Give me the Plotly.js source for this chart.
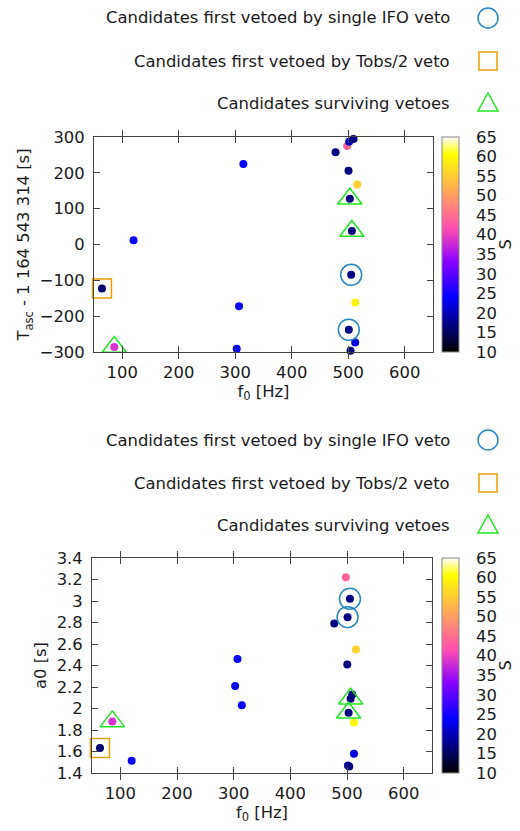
<!DOCTYPE html>
<html>
<head>
<meta charset="utf-8">
<script src="https://cdn.plot.ly/plotly-3.0.1.min.js"></script>
<style>html,body{margin:0;padding:0;background:#fff;}#chart{width:520px;height:831px;}</style>
</head>
<body>
<div id="chart"></div>
<script>
// ---- data: one entry per candidate ----
const f0   = [64.1, 85.9, 120.0, 314.4, 306.7, 302.6, 477.5, 498.0, 501.6, 509.3, 500.5, 515.8, 502.8, 506.4, 505.2, 512.3, 501.0, 512.3, 504.0];
const tasc = [-123, -286, 12.2, 224.8, -172, -290.6, 257.7, 274.6, 286.8, 294.4, 206, 167.4, 127.9, 37.6, -84.6, -161.7, -237.9, -273.6, -296.2];
const a0   = [1.633, 1.88, 1.515, 2.03, 2.46, 2.21, 2.79, 3.22, 1.47, 2.13, 2.41, 2.55, 1.96, 2.09, 3.02, 1.87, 2.85, 1.58, 1.46];
const S    = [16, 38.5, 24, 24, 24, 24, 17, 44, 20, 17, 17, 55.5, 17, 17, 17, 59.5, 17, 22, 17];
const veto = ['tobs', 'survive', '', '', '', '', '', '', '', '', '', '', 'survive', 'survive', 'ifo', '', 'ifo', '', ''];

const legendNames = {
  ifo: 'Candidates first vetoed by single IFO veto',
  tobs: 'Candidates first vetoed by Tobs/2 veto',
  survive: 'Candidates surviving vetoes'
};
const sMin = 10, sMax = 65;
const cbTicks = [10, 15, 20, 25, 30, 35, 40, 45, 50, 55, 60, 65];
const cbTitle = 'S';

// gnuplot rgbformulae 30,31,32 palette
function clamp(v){ return Math.max(0, Math.min(1, v)); }
function pal(x){
  const r = clamp(x/0.32 - 0.78125);
  const g = clamp(2*x - 0.84);
  let b;
  if (x < 0.25) b = 4*x; else if (x < 0.42) b = 1; else if (x < 0.92) b = -2*x + 1.84; else b = x/0.08 - 11.5;
  b = clamp(b);
  return 'rgb(' + Math.round(r*255) + ',' + Math.round(g*255) + ',' + Math.round(b*255) + ')';
}
const colorscale = [];
for (let i = 0; i <= 50; i++) { const x = i/50; colorscale.push([x, pal(x)]); }

const styles = {
  ifo:     {symbol: 'circle-open',      size: 21, color: '#2a86c2'},
  tobs:    {symbol: 'square-open',      size: 19, color: '#E69F00'},
  survive: {symbol: 'triangle-up-open', size: 21, color: '#1ee61e'}
};

function pick(arr, cat){ return arr.filter((_, i) => veto[i] === cat); }

const FONT = 'DejaVu Sans, sans-serif';
const TXT = '#1a1a1a';
const FS = 16.4;
const traces = [];
[['x','y',tasc,'coloraxis','y3'], ['x2','y2',a0,'coloraxis2','y4']].forEach(([xa, ya, yv, ca, cbAx]) => {
  traces.push({
    type: 'scatter', mode: 'markers', x: f0, y: yv, xaxis: xa, yaxis: ya,
    showlegend: false, cliponaxis: false,
    marker: {size: 8, color: S, coloraxis: ca}
  });
  ['ifo', 'tobs', 'survive'].forEach(cat => {
    const st = styles[cat];
    traces.push({
      type: 'scatter', mode: 'markers', name: legendNames[cat],
      x: pick(f0, cat), y: pick(yv, cat), xaxis: xa, yaxis: ya,
      showlegend: false, cliponaxis: false,
      marker: {symbol: st.symbol, size: st.size, color: st.color, line: {color: st.color, width: 1.5}}
    });
  });
  // empty trace so the colour-bar label scale gets drawn
  traces.push({type: 'scatter', mode: 'markers', x: [], y: [], xaxis: xa, yaxis: cbAx, showlegend: false, hoverinfo: 'skip'});
});

const W = 520, H = 831;
const px = v => v / W;
const py = v => 1 - v / H;

function axisCommon(){
  return {
    showline: true, linecolor: '#444', linewidth: 1, mirror: 'allticks',
    ticks: 'inside', ticklen: 6, tickcolor: '#444', showgrid: false, zeroline: false,
    tickfont: {family: FONT, size: FS, color: TXT}, ticklabelstandoff: 5
  };
}
function cb(top, bottom){
  return {
    x: px(442), xanchor: 'left', thickness: 17, xpad: 0, ypad: 0,
    y: py(bottom), yanchor: 'bottom', len: (bottom - top)/H, lenmode: 'fraction',
    outlinecolor: '#888', outlinewidth: 1,
    tickvals: cbTicks, ticks: '', showticklabels: false
  };
}
// scale for the colour-bar labels: same range as the colour axis, set just right of the bar
function cbScale(over){
  return {
    overlaying: over, anchor: 'free', position: px(459), side: 'right',
    range: [sMin, sMax], tickvals: cbTicks, showgrid: false, zeroline: false, showline: false,
    ticks: '', ticklabelstandoff: 16, tickfont: {family: FONT, size: FS, color: TXT}
  };
}

const layout = {
  width: W, height: H, margin: {l: 0, r: 0, t: 0, b: 0},
  paper_bgcolor: '#fff', plot_bgcolor: '#fff', showlegend: false,
  font: {family: FONT, size: FS, color: TXT},
  xaxis: Object.assign(axisCommon(), {domain: [px(94), px(433)], range: [50, 650], tickvals: [100,200,300,400,500,600], anchor: 'y',
    title: {text: 'f<sub>0</sub> [Hz]', standoff: 3, font: {family: FONT, size: FS, color: TXT}}}),
  yaxis: Object.assign(axisCommon(), {domain: [py(352), py(137)], range: [-300, 300], tickvals: [-300,-200,-100,0,100,200,300], anchor: 'x',
    title: {text: 'T<sub>asc</sub> - 1 164 543 314 [s]', standoff: 5, font: {family: FONT, size: FS, color: TXT}}}),
  xaxis2: Object.assign(axisCommon(), {domain: [px(92), px(432)], range: [50, 650], tickvals: [100,200,300,400,500,600], anchor: 'y2',
    title: {text: 'f<sub>0</sub> [Hz]', standoff: 3, font: {family: FONT, size: FS, color: TXT}}}),
  yaxis2: Object.assign(axisCommon(), {domain: [py(773), py(558)], range: [1.4, 3.4], tickvals: [1.4,1.6,1.8,2,2.2,2.4,2.6,2.8,3,3.2,3.4], ticktext: ['1.4','1.6','1.8','2','2.2','2.4','2.6','2.8','3','3.2','3.4'], anchor: 'x2',
    title: {text: 'a0 [s]', standoff: 5, font: {family: FONT, size: FS, color: TXT}}}),
  yaxis3: cbScale('y'),
  yaxis4: cbScale('y2'),
  coloraxis:  {cmin: sMin, cmax: sMax, colorscale: colorscale, colorbar: cb(137, 352)},
  coloraxis2: {cmin: sMin, cmax: sMax, colorscale: colorscale, colorbar: cb(558, 773)},
  annotations: [], shapes: []
};

// colorbar titles (rotated, next to the tick labels)
[[137, 352], [558, 773]].forEach(([top, bottom]) => {
  layout.annotations.push({
    xref: 'paper', yref: 'paper', x: px(505), y: py((top + bottom) / 2), xanchor: 'center', yanchor: 'middle',
    text: cbTitle, textangle: -90, showarrow: false, font: {family: FONT, size: FS, color: TXT}
  });
});

// gnuplot-style keys (text left, symbol right) for both panels
const keyRows = [[18, 61, 103], [440, 483, 525]];
const cats = ['ifo', 'tobs', 'survive'];
keyRows.forEach(rows => {
  rows.forEach((yy, k) => {
    const cat = cats[k];
    const st = styles[cat];
    layout.annotations.push({
      xref: 'paper', yref: 'paper', x: px(452), y: py(yy), xanchor: 'right', yanchor: 'middle',
      text: legendNames[cat], showarrow: false, font: {family: FONT, size: FS, color: TXT}
    });
    const base = {xref: 'paper', yref: 'paper', xsizemode: 'pixel', ysizemode: 'pixel',
      xanchor: px(488), yanchor: py(yy), line: {color: st.color, width: 1.5}, fillcolor: 'rgba(0,0,0,0)'};
    if (cat === 'ifo') layout.shapes.push(Object.assign({type: 'circle', x0: -10, x1: 10, y0: -10, y1: 10}, base));
    else if (cat === 'tobs') layout.shapes.push(Object.assign({type: 'rect', x0: -9, x1: 9, y0: -9, y1: 9}, base));
    else layout.shapes.push(Object.assign({type: 'path', path: 'M -10,-8 L 10,-8 L 0,10 Z'}, base));
  });
});

Plotly.newPlot('chart', traces, layout, {displayModeBar: false, staticPlot: true});
</script>
</body>
</html>
